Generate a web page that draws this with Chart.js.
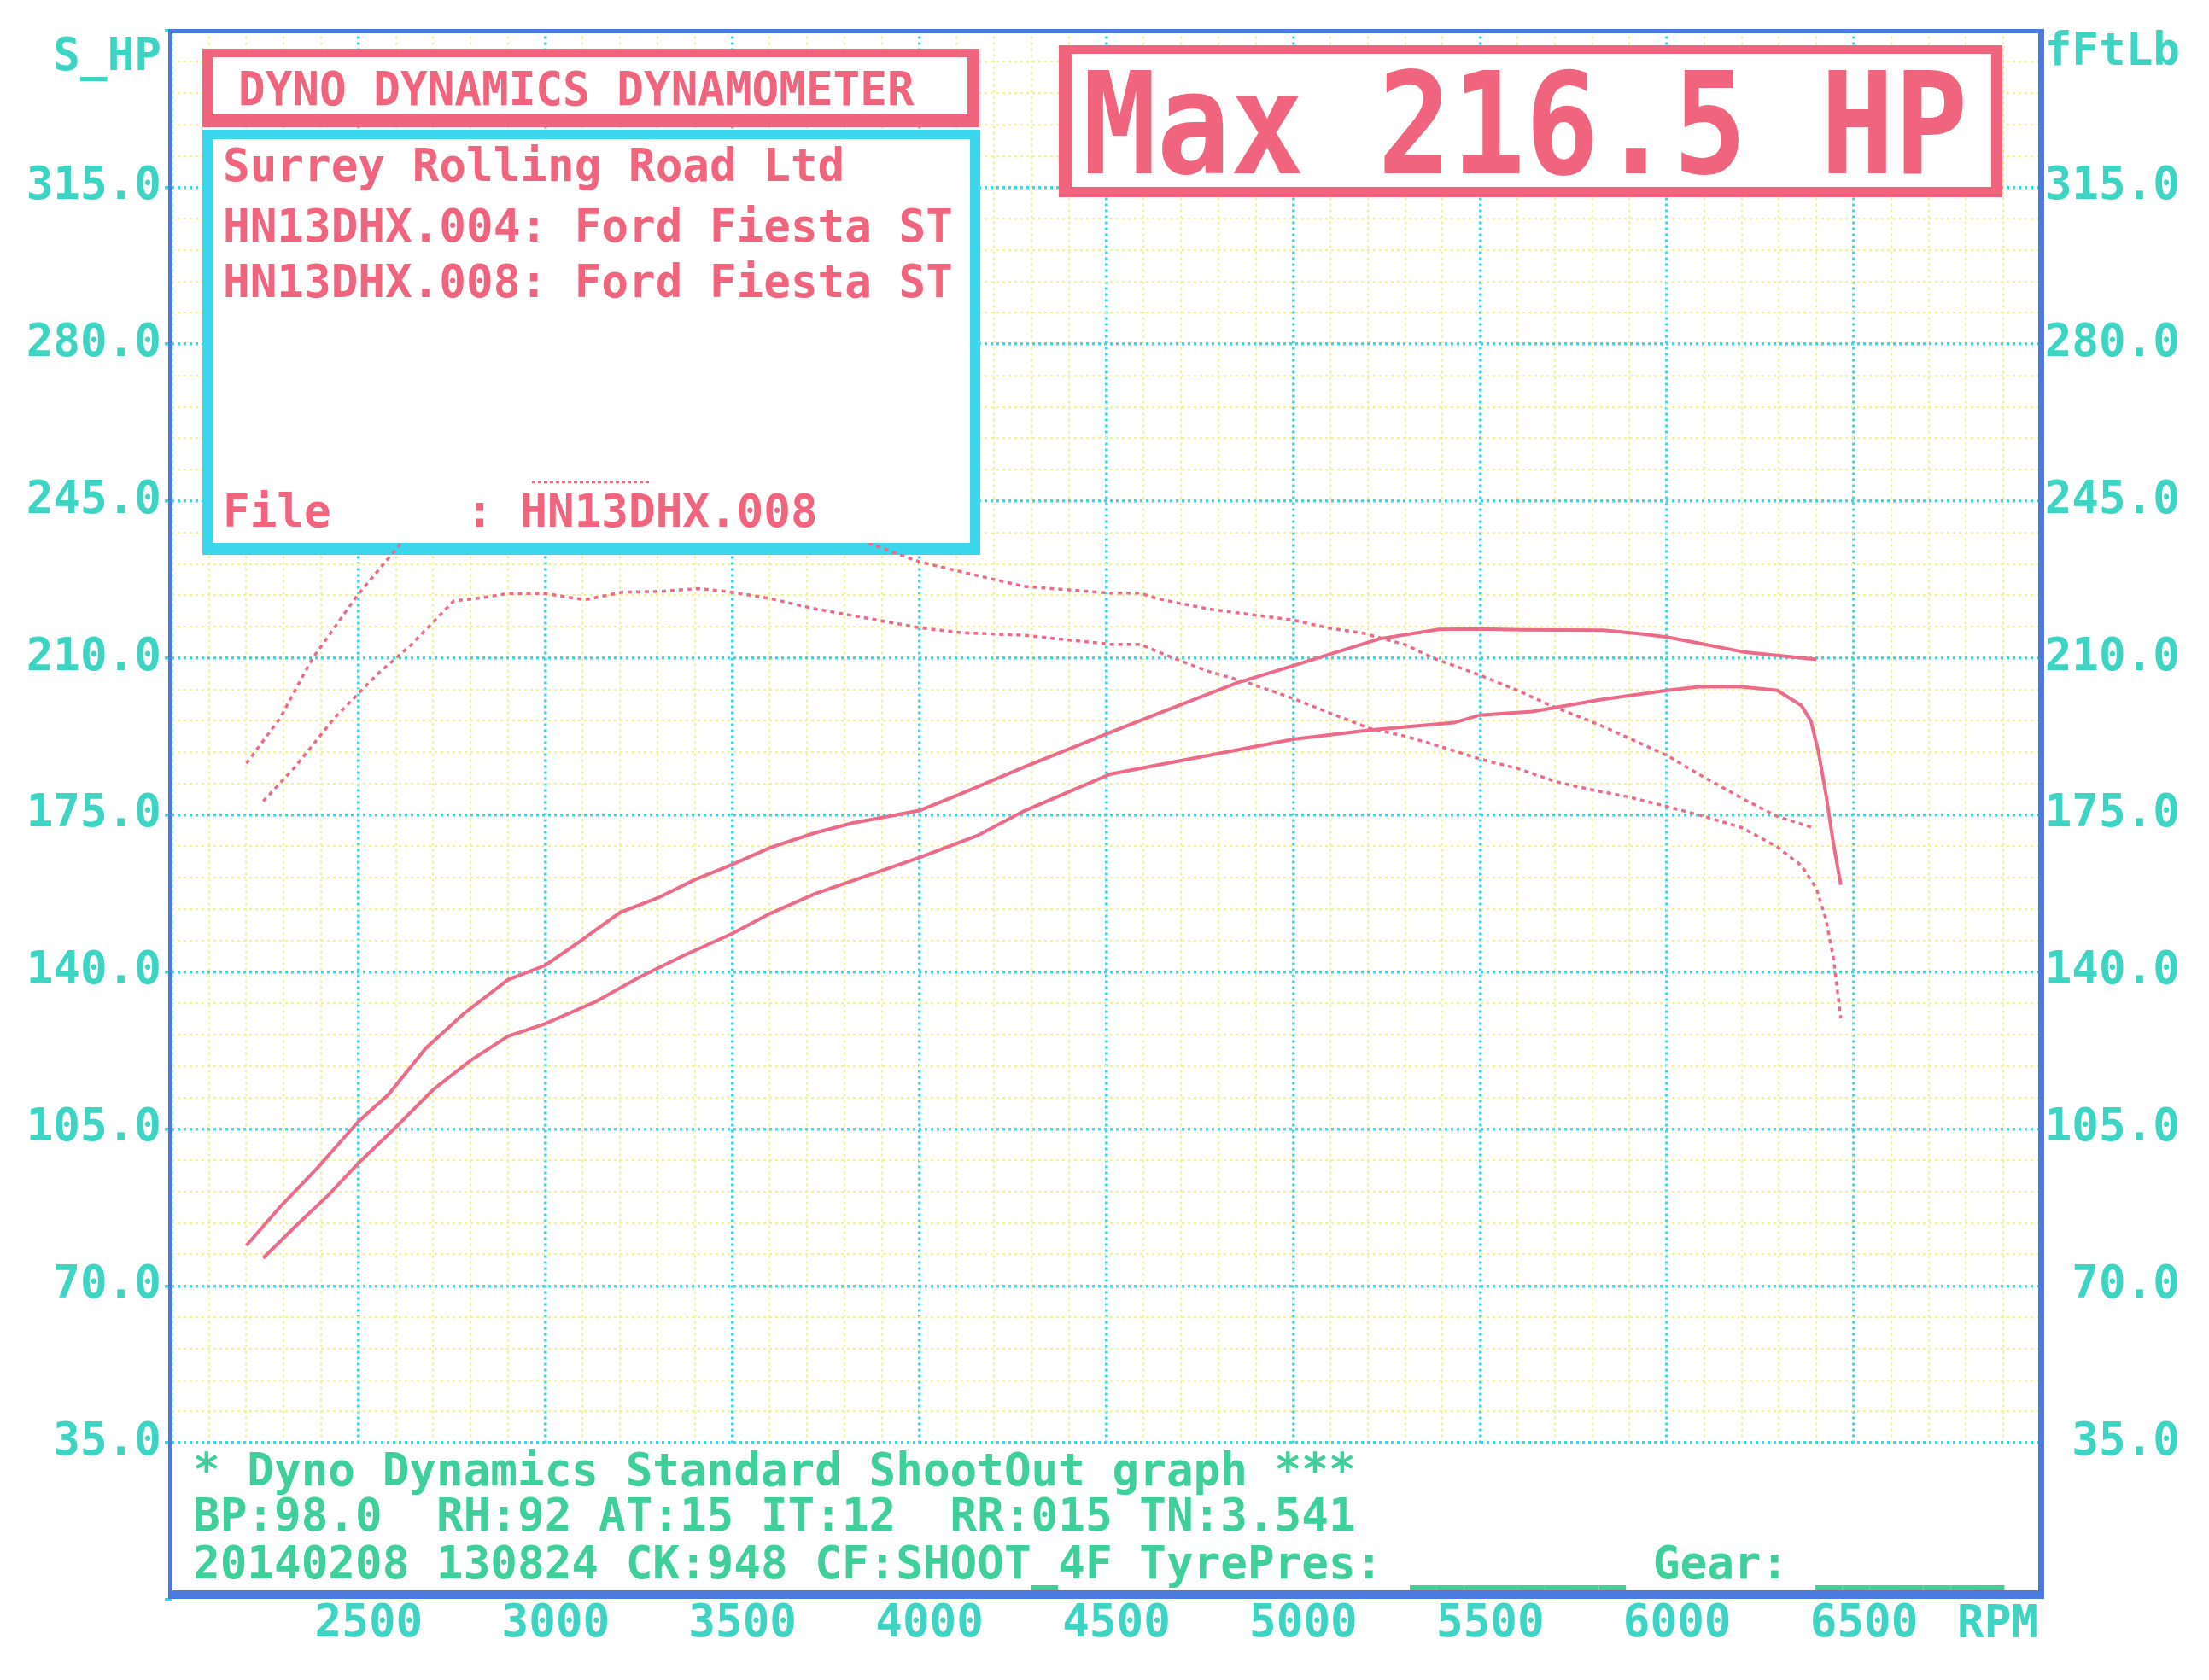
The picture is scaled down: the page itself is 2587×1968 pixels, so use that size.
<!DOCTYPE html>
<html>
<head>
<meta charset="utf-8">
<title>Dyno Dynamics - Ford Fiesta ST</title>
<script src="https://cdn.jsdelivr.net/npm/chart.js@4.4.1/dist/chart.umd.min.js"></script>
<style>
  html, body { margin: 0; padding: 0; background: #ffffff; }
  canvas { display: block; }
</style>
</head>
<body>
<canvas id="dynoChart" width="2587" height="1968"></canvas>
<script>
/* ==================================================
   DYNO SHEET - two runs, power (solid) + torque (dotted)
================================================== */

// Run .008 (the higher pair of curves)
const rpmHp008 = [2200, 2290, 2390, 2500, 2580, 2680, 2780, 2900, 3000, 3090, 3200, 3300, 3400, 3500, 3600, 3720, 3820, 4000, 4110, 4280, 4510, 4640, 4850, 5000, 5100, 5230, 5390, 5500, 5610, 5830, 5930, 6000, 6080, 6210, 6400];
const hp008 = [79, 87.6, 96.3, 106.7, 112.7, 123, 130.6, 138.3, 141.5, 146.7, 153.3, 156.5, 160.6, 164, 167.7, 171, 173.2, 176, 179.7, 185.7, 193.4, 197.7, 204.5, 208.3, 210.9, 214.3, 216.4, 216.5, 216.3, 216.2, 215.4, 214.7, 213.4, 211.3, 209.7];

const rpmTq008 = [2200, 2290, 2375, 2495, 2615, 2700, 2850, 3000, 3200, 3400, 3600, 3840, 4000, 4110, 4280, 4510, 4590, 4640, 4770, 4880, 5000, 5090, 5190, 5300, 5375, 5500, 5600, 5690, 5820, 6000, 6085, 6215, 6295, 6390];
const tq008 = [186.5, 196.6, 209.7, 223.8, 235.8, 241, 246, 247.5, 250, 248, 243.5, 236.4, 231.5, 229.3, 226, 224.5, 224.5, 223.2, 221, 219.8, 218.5, 216.8, 215.5, 213, 210, 206.2, 202.8, 199.4, 195.1, 188.3, 184.1, 178.1, 174.7, 172.2];

// Run .004 (the lower pair of curves)
const rpmHp004 = [2245, 2330, 2420, 2500, 2595, 2700, 2800, 2900, 3000, 3135, 3250, 3370, 3500, 3600, 3720, 3850, 4000, 4155, 4280, 4510, 4640, 4830, 5000, 5200, 5430, 5500, 5640, 5820, 6000, 6085, 6200, 6295, 6360, 6385, 6405, 6425, 6445, 6465];
const hp004 = [76.2, 83.2, 90.3, 97.4, 105, 113.8, 120.3, 125.7, 128.5, 133.4, 138.8, 143.7, 148.6, 153, 157.4, 161.2, 165.5, 170.4, 175.9, 184.1, 186.2, 189.2, 191.9, 193.9, 195.6, 197.3, 198.1, 200.7, 202.8, 203.6, 203.6, 202.8, 199.4, 196, 189.2, 179.8, 168.8, 159.4];

const rpmTq004 = [2245, 2330, 2435, 2550, 2640, 2755, 2815, 2900, 3000, 3105, 3205, 3310, 3410, 3500, 3600, 3715, 3820, 4000, 4110, 4280, 4510, 4590, 4680, 4775, 4880, 5000, 5100, 5205, 5300, 5405, 5500, 5600, 5705, 5795, 5900, 6000, 6100, 6200, 6295, 6360, 6400, 6425, 6445, 6465];
const tq004 = [178.1, 185.7, 196.6, 206.4, 212.9, 222.8, 223.3, 224.4, 224.4, 223, 224.7, 224.9, 225.5, 224.7, 223.3, 221.1, 219.5, 216.8, 215.7, 215.1, 213.1, 213.1, 210, 207, 204.5, 201, 197.7, 194.3, 192.6, 190, 187.5, 185.4, 182.4, 180.7, 179, 176.9, 174.7, 172.2, 167.9, 163.7, 158.6, 151.8, 143.3, 129.7];

// Axis ranges / tick steps
const rpmMin = 2000, rpmMax = 7000, rpmMinorStep = 100, rpmMajorStep = 500;
const yMin = 0, yMax = 350, yMinorStep = 7, yMajorStep = 35;

// Sheet texts
const headerText = 'DYNO DYNAMICS DYNAMOMETER';
const maxText = 'Max 216.5 HP';
const infoLines = ['Surrey Rolling Road Ltd', 'HN13DHX.004: Ford Fiesta ST', 'HN13DHX.008: Ford Fiesta ST'];
const fileLine = 'File     : HN13DHX.008';
const footerLines = [
    '* Dyno Dynamics Standard ShootOut graph ***',
    'BP:98.0  RH:92 AT:15 IT:12  RR:015 TN:3.541',
    '20140208 130824 CK:948 CF:SHOOT_4F TyrePres: ________ Gear: _______'
];

// Colours
const PINK = '#f0647e';
const CURVE = '#ee6a89';
const CYAN_GRID = '#3fd5e2';
const YELLOW_GRID = '#f3f196';
const CYAN_BOX = '#3cd6ec';
const LABEL = '#3dd4c4';
const GREEN = '#3fcf9a';
const BLUE = '#4b7be0';

const MONO = "'DejaVu Sans Mono', 'Liberation Mono', monospace";

const pts = (xs, ys) => xs.map((x, i) => ({ x: x, y: ys[i] }));
const isMajorY = v => Math.round(v) % yMajorStep === 0;
const isMajorX = v => Math.round(v) % rpmMajorStep === 0;

function monoText(ctx, str, x, baseline, size, color, align, sy) {
    ctx.save();
    ctx.font = 'bold ' + size + 'px ' + MONO;
    ctx.fillStyle = color;
    ctx.textAlign = align || 'left';
    ctx.textBaseline = 'alphabetic';
    ctx.translate(x, baseline);
    ctx.scale(1, sy || 1);
    ctx.fillText(str, 0, 0);
    ctx.restore();
}

// box geometry: outer rect + border widths [top, right, bottom, left]
const headerBox = { x0: 237, y0: 57, x1: 1147, y1: 149, t: [10, 14, 15, 12] };
const infoBox = { x0: 237, y0: 152, x1: 1148, y1: 650, t: [11, 12, 14, 12] };
const maxBox = { x0: 1240, y0: 53, x1: 2345, y1: 231, t: [10, 13, 12, 15] };

function boxBorder(ctx, b, color) {
    ctx.fillStyle = color;
    ctx.fillRect(b.x0, b.y0, b.x1 - b.x0, b.y1 - b.y0);
    boxInner(ctx, b);
}
function boxInner(ctx, b) {
    ctx.fillStyle = '#ffffff';
    ctx.fillRect(b.x0 + b.t[3], b.y0 + b.t[0], b.x1 - b.x0 - b.t[1] - b.t[3], b.y1 - b.y0 - b.t[0] - b.t[2]);
}

const FS = 52.6; // character cell ~31.7px

const dynoOverlay = {
    id: 'dynoOverlay',
    beforeDatasetsDraw(chart) {
        const { ctx, chartArea, scales } = chart;
        const y35 = scales.y.getPixelForValue(35);
        ctx.save();
        // footer text panel hides the grid under 35
        ctx.fillStyle = '#ffffff';
        ctx.fillRect(chartArea.left, y35 + 2, chartArea.right - chartArea.left, chartArea.bottom - y35);
        monoText(ctx, footerLines[0], 226, 1740, FS, GREEN);
        monoText(ctx, footerLines[1], 226, 1793, FS, GREEN);
        monoText(ctx, footerLines[2], 226, 1849, FS, GREEN);
        // box frames go under the curves (the torque trace runs over the cyan frame)
        boxBorder(ctx, headerBox, PINK);
        boxBorder(ctx, infoBox, CYAN_BOX);
        boxBorder(ctx, maxBox, PINK);
        ctx.restore();
    },
    afterDatasetsDraw(chart) {
        const ctx = chart.ctx;
        ctx.save();
        // box interiors hide the curves
        boxInner(ctx, infoBox);
        monoText(ctx, headerText, 279, 123, FS, PINK, 'left', 1.04);
        monoText(ctx, infoLines[0], 261, 212, FS, PINK);
        monoText(ctx, infoLines[1], 261, 283, FS, PINK);
        monoText(ctx, infoLines[2], 261, 348, FS, PINK);
        monoText(ctx, fileLine, 261, 617, FS, PINK);
        ctx.strokeStyle = PINK;
        ctx.lineWidth = 2.5;
        ctx.setLineDash([4, 3]);
        ctx.beginPath();
        ctx.moveTo(623, 565);
        ctx.lineTo(760, 565);
        ctx.stroke();
        ctx.setLineDash([]);
        monoText(ctx, maxText, 1268, 203, 143.5, PINK, 'left', 1.15);
        ctx.restore();
    },
    afterDraw(chart) {
        const ctx = chart.ctx;
        ctx.save();
        // plot frame
        ctx.fillStyle = BLUE;
        ctx.fillRect(197, 34, 2394 - 197, 5);
        ctx.fillRect(197, 34, 5, 1873 - 34);
        ctx.fillRect(2387, 34, 7, 1873 - 34);
        ctx.fillRect(197, 1863, 2394 - 197, 10);
        // axis titles
        monoText(ctx, 'S_HP', 189, 82, FS, LABEL, 'right');
        monoText(ctx, 'fFtLb', 2553, 76, FS, LABEL, 'right');
        monoText(ctx, 'RPM', 2387, 1918, FS, LABEL, 'right');
        ctx.restore();
    }
};

const powerStyle = { borderColor: CURVE, borderWidth: 4, pointRadius: 0, tension: 0, fill: false };
const torqueStyle = { borderColor: CURVE, borderWidth: 3.5, borderDash: [5, 5], pointRadius: 0, tension: 0, fill: false };

new Chart(document.getElementById('dynoChart'), {
    type: 'line',
    data: {
        datasets: [
            Object.assign({ label: 'HN13DHX.008 Power', data: pts(rpmHp008, hp008), yAxisID: 'y' }, powerStyle),
            Object.assign({ label: 'HN13DHX.004 Power', data: pts(rpmHp004, hp004), yAxisID: 'y' }, powerStyle),
            Object.assign({ label: 'HN13DHX.008 Torque', data: pts(rpmTq008, tq008), yAxisID: 'y1' }, torqueStyle),
            Object.assign({ label: 'HN13DHX.004 Torque', data: pts(rpmTq004, tq004), yAxisID: 'y1' }, torqueStyle)
        ]
    },
    options: {
        responsive: false,
        animation: false,
        layout: { padding: { top: 34, right: 34, left: 0, bottom: 0 } },
        plugins: { legend: { display: false }, tooltip: { enabled: false } },
        scales: {
            x: {
                type: 'linear', min: rpmMin, max: rpmMax,
                ticks: {
                    stepSize: rpmMinorStep, autoSkip: false, maxRotation: 0, padding: 0, labelOffset: 12,
                    color: LABEL, font: { family: MONO, size: FS, weight: 'bold', lineHeight: 1.1 },
                    callback: v => (isMajorX(v) && v > rpmMin && v < rpmMax) ? String(v) : ''
                },
                grid: {
                    color: c => isMajorX(c.tick.value) ? CYAN_GRID : YELLOW_GRID,
                    lineWidth: c => isMajorX(c.tick.value) ? 3.5 : 2.2,
                    drawTicks: false
                },
                border: { display: false, dash: [3, 4] },
                afterFit: s => { s.height = 94; }
            },
            y: {
                position: 'left', min: yMin, max: yMax,
                ticks: {
                    stepSize: yMinorStep, autoSkip: false, padding: 4,
                    color: LABEL, font: { family: MONO, size: FS, weight: 'bold' },
                    callback: v => (isMajorY(v) && v > yMin && v < yMax) ? v.toFixed(1) : ''
                },
                grid: {
                    color: c => isMajorY(c.tick.value) ? CYAN_GRID : YELLOW_GRID,
                    lineWidth: c => isMajorY(c.tick.value) ? 3.5 : 2.2,
                    tickLength: 8,
                    tickColor: c => isMajorY(c.tick.value) ? CYAN_GRID : 'rgba(0,0,0,0)'
                },
                border: { display: false, dash: [3, 4] },
                afterFit: s => { s.width = 201; }
            },
            y1: {
                position: 'right', min: yMin, max: yMax,
                ticks: {
                    stepSize: yMinorStep, autoSkip: false, crossAlign: 'far',
                    color: LABEL, font: { family: MONO, size: FS, weight: 'bold' },
                    callback: v => (isMajorY(v) && v > yMin && v < yMax) ? v.toFixed(1) : ''
                },
                grid: { display: false },
                border: { display: false },
                afterFit: s => { s.width = 163; }
            }
        }
    },
    plugins: [dynoOverlay]
});
</script>
</body>
</html>
